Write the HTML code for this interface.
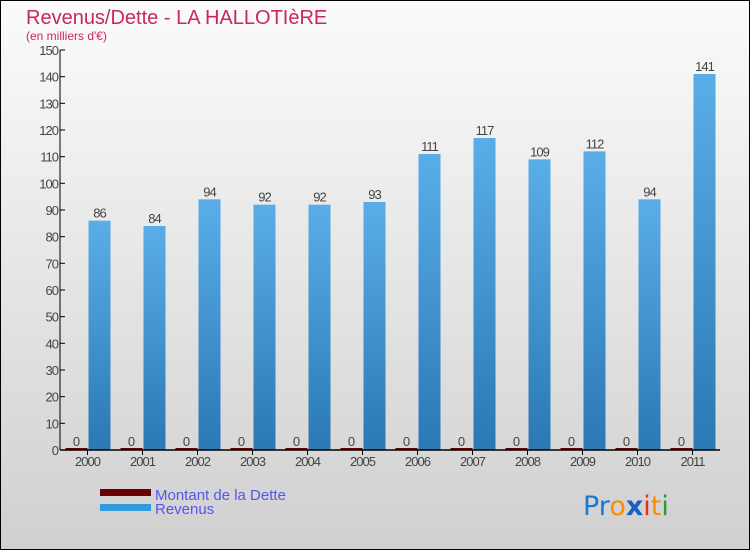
<!DOCTYPE html>
<html><head><meta charset="utf-8"><style>
html,body{margin:0;padding:0}
body{width:750px;height:550px;overflow:hidden;font-family:"Liberation Sans",sans-serif}
</style></head><body>
<svg width="750" height="550" xmlns="http://www.w3.org/2000/svg">
<defs>
<linearGradient id="bg" x1="0" y1="0" x2="0" y2="1"><stop offset="0" stop-color="#fbfbfb"/><stop offset="1" stop-color="#d0d0d0"/></linearGradient>
<linearGradient id="rev" x1="0" y1="0" x2="0" y2="1"><stop offset="0" stop-color="#5aaee8"/><stop offset="1" stop-color="#2a78b4"/></linearGradient>
</defs>
<rect x="0.5" y="0.5" width="749" height="549" fill="url(#bg)" stroke="#000"/>
<text x="26" y="24" font-size="20" fill="#c8285a">Revenus/Dette - LA HALLOTIèRE</text>
<text x="26" y="40" font-size="12" fill="#c8285a">(en milliers d'€)</text>
<g id="plot"></g>
<g>
<rect x="100" y="489" width="51" height="7" fill="#6b0000"/>
<text x="155" y="500" font-size="15" fill="#5555ee">Montant de la Dette</text>
<rect x="100" y="504" width="51" height="7" fill="#3399dd"/>
<text x="155" y="514" font-size="15" fill="#5555ee">Revenus</text>
</g>
<text x="583" y="515" font-size="27" font-family="DejaVu Sans, sans-serif"><tspan fill="#1a78d0">Pr</tspan><tspan fill="#ff8c00">o</tspan><tspan fill="#1a60c0" font-weight="bold">x</tspan><tspan fill="#e83010">i</tspan><tspan fill="#ff8c00">t</tspan><tspan fill="#2a9a3a">i</tspan></text>
</svg>
<script>
const years=["2000","2001","2002","2003","2004","2005","2006","2007","2008","2009","2010","2011"];
const dette=[0,0,0,0,0,0,0,0,0,0,0,0];
const revenus=[86,84,94,92,92,93,111,117,109,112,94,141];
const yTicks=[0,10,20,30,40,50,60,70,80,90,100,110,120,130,140,150];
const NS="http://www.w3.org/2000/svg";
const g=document.getElementById('plot');
const X0=60,BW=55,Y0=450,YMAX=150,H=400;
const y=v=>Y0-v/YMAX*H;
const xc=i=>X0+BW*(i+0.5);
function mk(t,a){const e=document.createElementNS(NS,t);for(const k in a)e.setAttribute(k,a[k]);g.appendChild(e);return e;}
yTicks.forEach(v=>{
 const l=mk('line',{x1:X0,x2:X0+5,y1:y(v),y2:y(v),stroke:'#000'});
 
 
 const t=mk('text',{x:X0-2,y:y(v)+5,'text-anchor':'end','font-size':13,fill:'#444','letter-spacing':'-1'});
 t.textContent=v;
 
 
});
years.forEach((yr,i)=>{
 const c=xc(i);
 const d=mk('rect',{x:c-22,y:y(dette[i])-2,width:22,height:Math.max(2,Y0-y(dette[i])),fill:'#6b0000'});
 
 
 const dl=mk('text',{x:c-11,y:y(dette[i])-4,'text-anchor':'middle','font-size':13,fill:'#444'});
 dl.textContent=dette[i];
 
 
 const r=mk('rect',{x:c+1,y:y(revenus[i]),width:22,height:Y0-y(revenus[i]),fill:'url(#rev)'});
 
 
 const rl=mk('text',{x:c+12,y:y(revenus[i])-3,'text-anchor':'middle','font-size':13,fill:'#444','letter-spacing':'-1'});
 rl.textContent=revenus[i];
 
 
 const tk=mk('line',{x1:c,x2:c,y1:Y0,y2:Y0+5,stroke:'#000'});
 
 
 const xl=mk('text',{x:c,y:Y0+16,'text-anchor':'middle','font-size':13,fill:'#444','letter-spacing':'-1'});
 xl.textContent=yr;
 
 
});
const ya=mk('line',{x1:X0,x2:X0,y1:y(150),y2:Y0,stroke:'#000'});


const xa=mk('line',{x1:X0,x2:X0+BW*12,y1:Y0,y2:Y0,stroke:'#000','stroke-width':1.5});


</script>
</body></html>
